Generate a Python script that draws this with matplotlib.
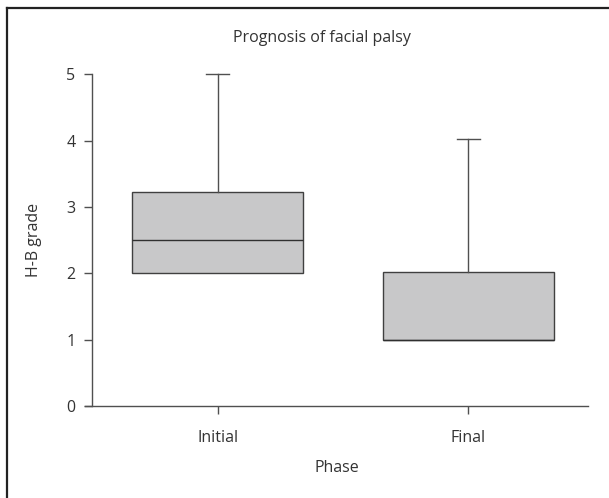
import matplotlib
matplotlib.use("Agg")
import matplotlib.pyplot as plt
from matplotlib.lines import Line2D

# box plot summary (H-B grade)
phases = ["Initial", "Final"]
whisker_low = [2.0, 1.0]
q1 = [2.0, 1.0]
median = [2.5, 1.0]
q3 = [3.22, 2.02]
whisker_high = [5.0, 4.03]

plt.rcParams["font.family"] = ["Open Sans", "DejaVu Sans"]
text_col = "#333333"
line_col = "#505050"
fs = 11.5

W, H = 609, 498
fig = plt.figure(figsize=(W / 100, H / 100), dpi=100)
fig.patch.set_facecolor("white")

# axes placed so the spines sit where the reference has them
x0, x1 = 85, 588
y0, y1 = 406, 74.3
ax = fig.add_axes([x0 / W, 1 - y0 / H, (x1 - x0) / W, (y0 - y1) / H])

stats = []
for i, name in enumerate(phases):
    stats.append({
        "label": name,
        "whislo": whisker_low[i],
        "q1": q1[i],
        "med": median[i],
        "q3": q3[i],
        "whishi": whisker_high[i],
        "fliers": [],
    })

bp = ax.bxp(stats, positions=[1, 2], widths=0.68, patch_artist=True,
            showfliers=False, capwidths=0.09,
            boxprops=dict(facecolor="#c8c8c9", edgecolor="#404040", linewidth=1.0),
            medianprops=dict(color="#303030", linewidth=1.0),
            whiskerprops=dict(color=line_col, linewidth=1.0),
            capprops=dict(color=line_col, linewidth=1.0))
for art in bp["caps"] + bp["whiskers"]:
    art.set_clip_on(False)
# lower caps sit on the box edge, the reference has none
for cap in bp["caps"][0::2]:
    cap.set_visible(False)

# x from spine start to end, y spine sits at x=92px
px_per_unit = (468.5 - 217.7)
ax.set_xlim(1 - (217.7 - x0) / px_per_unit, 2 + (x1 - 468.5) / px_per_unit)
ax.set_ylim(0, 5)
ax.spines["left"].set_position(("data", 1 - (217.7 - 92) / px_per_unit))
ax.spines["top"].set_visible(False)
ax.spines["right"].set_visible(False)
for s in ["left", "bottom"]:
    ax.spines[s].set_color(line_col)
    ax.spines[s].set_linewidth(1.0)

ax.set_yticks([0, 1, 2, 3, 4, 5])
ax.set_xticks([1, 2])
ax.set_xticklabels(phases)
ax.tick_params(axis="both", direction="out", length=6, width=1.0, color=line_col,
               labelcolor=text_col, labelsize=fs)
ax.tick_params(axis="y", pad=6)
ax.tick_params(axis="x", pad=11)

ax.set_xlabel("Phase", fontsize=fs, color=text_col, labelpad=10)
fig.text(34 / W, 1 - 240 / H, "H-B grade", rotation=90, ha="center", va="center",
         fontsize=fs, color=text_col)
fig.text(322 / W, 1 - 38 / H, "Prognosis of facial palsy", ha="center", va="center",
         fontsize=fs, color=text_col)

# frame along the top and left edge of the panel
fig.add_artist(Line2D([7 / W, 7 / W], [0, 1 - 8 / H], color="#222222", linewidth=1.6))
fig.add_artist(Line2D([7 / W, 1], [1 - 8 / H, 1 - 8 / H], color="#222222", linewidth=1.6))

fig.savefig("out.png", dpi=100, facecolor="white")
